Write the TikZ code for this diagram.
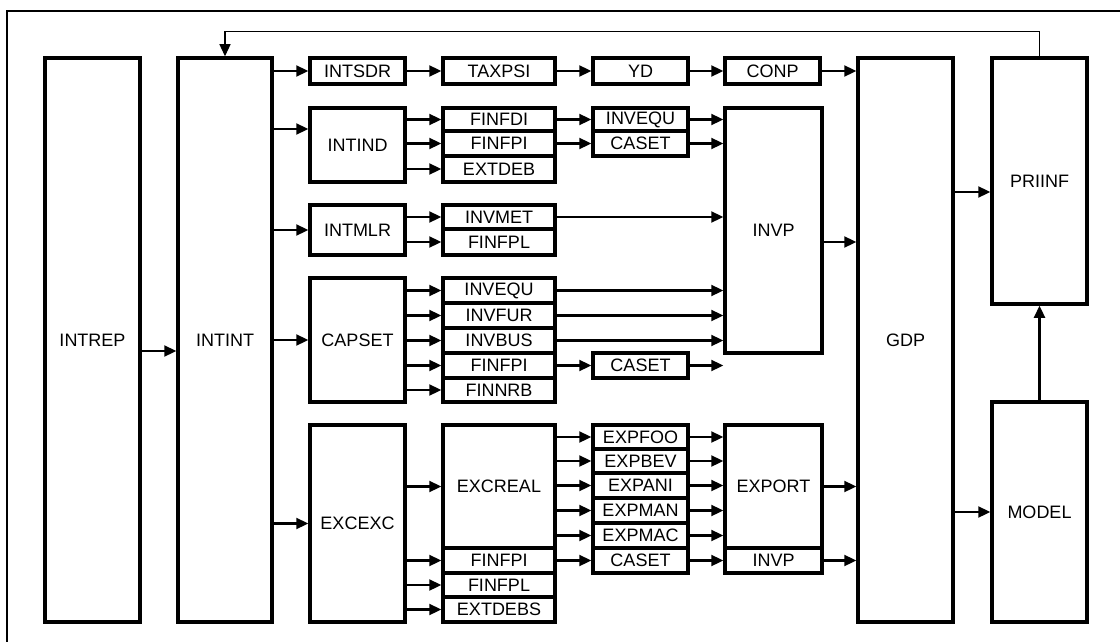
\documentclass[tikz,border=0pt]{standalone}
\usepackage{fontspec}
\setmainfont{Liberation Sans}
\usetikzlibrary{arrows.meta}
\newcommand\bx[6]{%
  \pgfmathsetmacro\bxw{#4-#2}\pgfmathsetmacro\bxh{#5-#3}%
  \pgfmathsetmacro\bxx{(#2+#4)/2}\pgfmathsetmacro\bxy{(#3+#5)/2}%
  \node[box,minimum width=\bxw pt,minimum height=\bxh pt] (#1) at (\bxx,\bxy) {#6};}
\begin{document}
\begin{tikzpicture}[x=1pt,y=-1pt,
  box/.style={draw,line width=3.5pt,inner sep=0pt,font=\fontsize{18}{20}\selectfont},
  arr/.style={line width=2.3pt,-{Triangle[length=12pt,width=11pt]}},
  fb/.style={line width=1.2pt,-{Triangle[length=12pt,width=11pt]}},
  frame/.style={line width=2.5pt}]
\useasboundingbox (0,0) rectangle (1120,642);
\begin{scope}
\clip (0,0) rectangle (1120,642);
\draw[frame] (7,11) rectangle (1135,660);
\end{scope}
% main columns
\bx{intrep}{45}{58}{140}{622}{INTREP}
\bx{intint}{178}{58}{272}{622}{INTINT}
\bx{gdp}{858}{58}{953}{622}{GDP}
\bx{priinf}{992}{58}{1087}{304}{PRIINF}
\bx{model}{992}{402}{1087}{622}{MODEL}
% row 1
\bx{intsdr}{310}{58}{405}{84}{INTSDR}
\bx{taxpsi}{443}{58}{555}{84}{TAXPSI}
\bx{yd}{593}{58}{688}{84}{YD}
\bx{conp}{725}{58}{820}{84}{CONP}
% INTIND group
\bx{intind}{310}{108}{405}{182}{INTIND}
\bx{finfdi}{443}{108}{555}{131}{FINFDI}
\bx{finfpia}{443}{131}{555}{156}{FINFPI}
\bx{extdeb}{443}{156}{555}{182}{EXTDEB}
\bx{invequa}{593}{108}{688}{131}{INVEQU}
\bx{caseta}{593}{131}{688}{156}{CASET}
\bx{invp}{725}{108}{822}{353}{INVP}
% INTMLR group
\bx{intmlr}{310}{205}{405}{255}{INTMLR}
\bx{invmet}{443}{205}{555}{229}{INVMET}
\bx{finfpl}{443}{229}{555}{255}{FINFPL}
% CAPSET group
\bx{capset}{310}{278}{405}{402}{CAPSET}
\bx{invequb}{443}{278}{555}{303}{INVEQU}
\bx{invfur}{443}{303}{555}{328}{INVFUR}
\bx{invbus}{443}{328}{555}{353}{INVBUS}
\bx{finfpib}{443}{353}{555}{378}{FINFPI}
\bx{finnrb}{443}{378}{555}{402}{FINNRB}
\bx{casetb}{593}{353}{688}{378}{CASET}
% EXCEXC group
\bx{excexc}{310}{425}{405}{622}{EXCEXC}
\bx{excreal}{443}{425}{555}{548}{EXCREAL}
\bx{finfpic}{443}{548}{555}{573}{FINFPI}
\bx{finfplc}{443}{573}{555}{597}{FINFPL}
\bx{extdebs}{443}{597}{555}{622}{EXTDEBS}
\bx{expfoo}{593}{425}{688}{449}{EXPFOO}
\bx{expbev}{593}{449}{688}{473}{EXPBEV}
\bx{expani}{593}{473}{688}{498}{EXPANI}
\bx{expman}{593}{498}{688}{523}{EXPMAN}
\bx{expmac}{593}{523}{688}{548}{EXPMAC}
\bx{casetc}{593}{548}{688}{573}{CASET}
\bx{export}{725}{425}{822}{548}{EXPORT}
\bx{invpc}{725}{548}{822}{573}{INVP}
% helper coordinates
\path ([yshift=-11pt]intrep.east) coordinate (ra)
      ([yshift=-11pt]intint.west) coordinate (rb)
      ([yshift=16pt]intind.west) coordinate (ia)
      ([yshift=-11.5pt]invp.east) coordinate (ip)
      ([yshift=-11pt]priinf.west) coordinate (pp);
\coordinate (cbend) at (casetb.east -| invp.west);
% arrows
\draw[arr] (ra) -- (rb);
\draw[arr] (intint.east |- intsdr.west) -- (intsdr.west);
\draw[arr] (intint.east |- ia) -- (ia);
\draw[arr] (intint.east |- intmlr.west) -- (intmlr.west);
\draw[arr] (intint.east |- capset.west) -- (capset.west);
\draw[arr] (intint.east |- excexc.west) -- (excexc.west);
\draw[arr] (intsdr) -- (taxpsi);
\draw[arr] (taxpsi) -- (yd);
\draw[arr] (yd) -- (conp);
\draw[arr] (conp.east) -- (conp.east -| gdp.west);
\foreach \t in {finfdi,finfpia,extdeb}
  \draw[arr] (intind.east |- \t.west) -- (\t.west);
\draw[arr] (finfdi) -- (invequa);
\draw[arr] (finfpia) -- (caseta);
\draw[arr] (invequa.east) -- (invequa.east -| invp.west);
\draw[arr] (caseta.east) -- (caseta.east -| invp.west);
\foreach \t in {invmet,finfpl}
  \draw[arr] (intmlr.east |- \t.west) -- (\t.west);
\draw[arr] (invmet.east) -- (invmet.east -| invp.west);
\foreach \t in {invequb,invfur,invbus,finfpib,finnrb}
  \draw[arr] (capset.east |- \t.west) -- (\t.west);
\foreach \t in {invequb,invfur,invbus}
  \draw[arr] (\t.east) -- (\t.east -| invp.west);
\draw[arr] (finfpib) -- (casetb);
\draw[arr] (casetb.east) -- (cbend);
\foreach \t in {excreal,finfpic,finfplc,extdebs}
  \draw[arr] (excexc.east |- \t.west) -- (\t.west);
\foreach \t in {expfoo,expbev,expani,expman,expmac}{
  \draw[arr] (excreal.east |- \t.west) -- (\t.west);
  \draw[arr] (\t.east) -- (\t.east -| export.west);}
\draw[arr] (finfpic) -- (casetc);
\draw[arr] (casetc) -- (invpc);
\draw[arr] (ip) -- (ip -| gdp.west);
\draw[arr] (export.east) -- (export.east -| gdp.west);
\draw[arr] (invpc.east) -- (invpc.east -| gdp.west);
\draw[arr] (gdp.east |- pp) -- (pp);
\draw[arr] (gdp.east |- model.west) -- (model.west);
\draw[arr] (model.north) -- (priinf.south);
\draw[fb] (priinf.north) -- ++(0,-25) -| (intint.north);
\end{tikzpicture}
\end{document}
